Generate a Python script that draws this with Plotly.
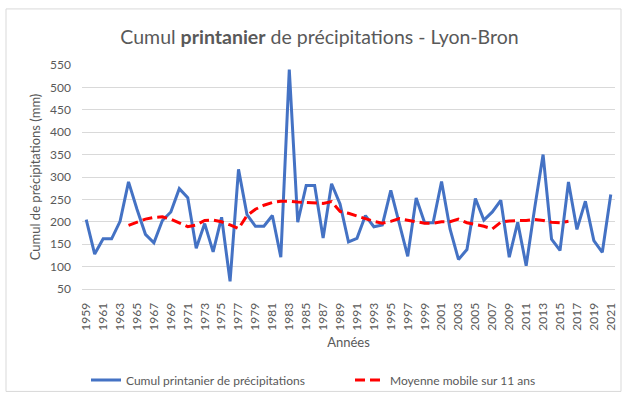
import plotly.graph_objects as go

# Années (axe des catégories)
years = list(range(1959, 2022))

# Cumul printanier de précipitations à Lyon-Bron (mm)
precip = [
    205, 128, 162, 162, 201, 289, 228, 172, 153, 203,   # 1959-1968
    222, 274, 254, 141, 196, 133, 210, 67, 317, 216,    # 1969-1978
    190, 190, 214, 121, 540, 199, 281, 281, 164, 285,   # 1979-1988
    240, 155, 163, 214, 189, 193, 270, 198, 123, 253,   # 1989-1998
    198, 198, 290, 184, 116, 138, 252, 204, 222, 248,   # 1999-2008
    121, 199, 102, 230, 350, 161, 136, 289, 183, 246,   # 2009-2018
    158, 132, 261,                                      # 2019-2021
]

# Moyenne mobile centrée sur 11 ans (1964-2016)
ma_years = list(range(1964, 2017))
ma_values = [
    192, 199, 206, 210, 211, 206, 198, 189, 193, 203,   # 1964-1973
    204, 200, 193, 185, 214, 228, 237, 243, 246, 246,   # 1974-1983
    244, 243, 241, 241, 245, 223, 219, 213, 207, 201,   # 1984-1993
    197, 201, 207, 203, 200, 197, 197, 200, 200, 206,   # 1994-2003
    198, 194, 190, 184, 199, 202, 202, 203, 205, 203,   # 2004-2013
    199, 198, 201,                                      # 2014-2016
]

tick_years = years[::2]
y_ticks = list(range(50, 551, 50))

TEXT = "#595959"
GRID = "#d9d9d9"
FONT = "Lato, 'Open Sans', sans-serif"

fig = go.Figure()
fig.add_trace(go.Scatter(
    x=years, y=precip, mode="lines",
    name="Cumul printanier de précipitations",
    line=dict(color="#4472C4", width=3),
))
fig.add_trace(go.Scatter(
    x=ma_years, y=ma_values, mode="lines",
    name="Moyenne mobile sur 11 ans",
    line=dict(color="#FF0000", width=3, dash="10px,5px"),
))

fig.update_layout(
    width=627, height=396,
    margin=dict(l=82, r=12, t=65, b=107, autoexpand=False),
    paper_bgcolor="white", plot_bgcolor="white",
    font=dict(family=FONT, color=TEXT, size=12),
    title=dict(
        text="Cumul <b>printanier</b> de précipitations - Lyon-Bron",
        x=319.5 / 627, xanchor="center", y=1 - 37 / 396, yanchor="middle",
        font=dict(size=19.5, color=TEXT, family=FONT),
    ),
    showlegend=True,
    legend=dict(
        orientation="h", xref="container", x=86 / 627, xanchor="left",
        yref="container", y=1 - 380 / 396, yanchor="middle",
        font=dict(size=12, color=TEXT),
        entrywidth=219, entrywidthmode="pixels",
        bgcolor="rgba(0,0,0,0)",
    ),
    xaxis=dict(
        range=[1958.5, 2021.5], automargin=False,
        tickmode="array", tickvals=tick_years,
        ticktext=[str(y) for y in tick_years],
        tickangle=-90, tickfont=dict(size=12, color=TEXT),
        ticklabelstandoff=8,
        showgrid=False, zeroline=False,
        showline=True, linecolor=GRID, linewidth=1,
        ticks="", ticklen=0,
        title=dict(text="Années", font=dict(size=13, color=TEXT), standoff=8),
    ),
    yaxis=dict(
        range=[50, 550], automargin=False,
        tickmode="array", tickvals=y_ticks,
        tickfont=dict(size=12, color=TEXT),
        ticklabelstandoff=10,
        showgrid=True, gridcolor=GRID, gridwidth=1,
        zeroline=False, showline=False, ticks="",
        title=dict(text="Cumul de précipitations (mm)",
                   font=dict(size=13, color=TEXT), standoff=6),
    ),
    shapes=[dict(
        type="rect", xref="paper", yref="paper",
        x0=-76 / 533, x1=(621 - 82) / 533,
        y0=-(391 - 288.7) / 223.7, y1=1 + (65 - 9) / 223.7,
        line=dict(color=GRID, width=1), fillcolor="rgba(0,0,0,0)",
        layer="below",
    )],
)

fig.write_html("out.html")
